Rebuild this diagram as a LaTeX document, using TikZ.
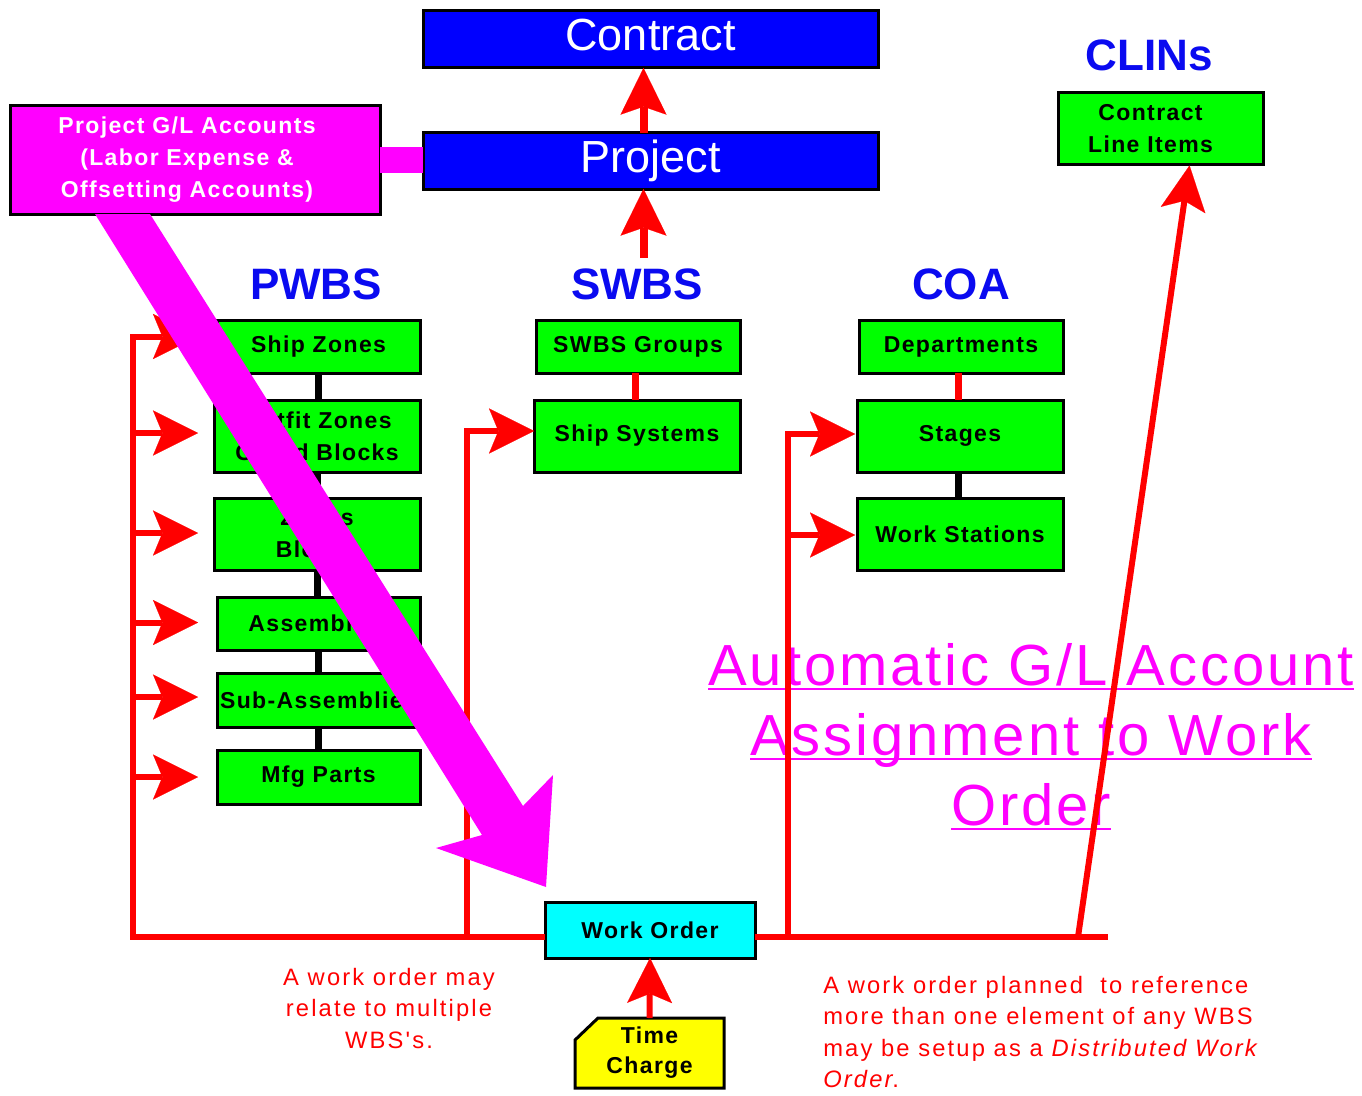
\documentclass[tikz,border=0pt]{standalone}
\usepackage{fontspec}
\setmainfont{Liberation Sans}
\newfontfamily\boxf[LetterSpace=6]{Liberation Sans}
\newfontfamily\notef[LetterSpace=9]{Liberation Sans}
\newfontfamily\autof[LetterSpace=5]{Liberation Sans}
\usetikzlibrary{arrows.meta,calc}
\pgfdeclarelayer{background}
\pgfsetlayers{background,main}
\definecolor{pgreen}{RGB}{0,255,0}
\definecolor{pblue}{RGB}{0,0,255}
\definecolor{tblue}{RGB}{10,10,240}
\definecolor{pmag}{RGB}{255,0,255}
\definecolor{pcyan}{RGB}{0,255,255}
\definecolor{pyel}{RGB}{255,255,0}
\definecolor{pred}{RGB}{255,0,0}
\newcommand\myul[1]{\setbox0\hbox{#1}\rlap{\rule[-3.2pt]{\wd0}{1.4pt}}\box0}
\newcommand\lsh[1]{\kern#1\mbox{}}
\begin{document}
\begin{tikzpicture}[x=0.75pt,y=-0.75pt,
  gbox/.style={draw=black, line width=2.25pt, fill=pgreen, inner sep=0pt, outer sep=0pt, align=center,
    font=\boxf\bfseries\fontsize{17.25pt}{24pt}\selectfont},
  small/.style={minimum width=152.25pt, minimum height=39.75pt},
  tall/.style={minimum width=154.5pt, minimum height=54pt},
  bluebox/.style={draw=black, line width=2.25pt, fill=pblue, text=white, inner sep=0pt, outer sep=0pt,
    minimum width=341.25pt, font=\fontsize{33.75pt}{36pt}\selectfont,
    text height=24.3pt, text depth=7.1pt},
  title/.style={text=tblue, font=\bfseries\fontsize{33pt}{36pt}\selectfont, inner sep=0pt, anchor=base},
  redln/.style={draw=pred, line width=4.5pt},
  redarr/.style={redln, -{Stealth[length=33.75pt,width=33.75pt,inset=7pt,line width=0.1pt]}},
  bigarr/.style={draw=pred, line width=6pt, -{Stealth[length=35pt,width=34.5pt,inset=6pt,line width=0.1pt]}},
  blk/.style={draw=black, line width=5.25pt},
  rcon/.style={draw=pred, line width=5.25pt},
  note/.style={text=pred, inner sep=0pt, font=\notef\fontsize{17.8pt}{23.6pt}\selectfont}
]
\begin{pgfonlayer}{background}
\fill[white] (0,0) rectangle (1362,1095);
\end{pgfonlayer}
\useasboundingbox (0,0) rectangle (1362,1095);

% top boxes
\node[bluebox, minimum height=42.75pt] (contract) at (650.5,39.5) {Contract};
\node[bluebox, minimum height=42pt] (project) at (650.5,161) {Project};
\node[draw=black, line width=2.25pt, fill=pmag, text=white, align=center, inner sep=0pt, outer sep=0pt,
  minimum width=277.5pt, minimum height=81pt,
  font=\boxf\bfseries\fontsize{17.25pt}{24pt}\selectfont] (gl) at (195,160)
  {Project G/L Accounts\lsh{12pt}\\(Labor Expense \&\lsh{12pt}\\Offsetting Accounts)\lsh{12pt}};
\draw[draw=pmag, line width=18.75pt] (gl.east) -- (gl.east -| project.west);

% titles
\node[title] (pwbs) at (316,299) {PWBS};
\node[title] (swbs) at (637,299) {SWBS};
\node[title] (coa) at (961,299) {COA};
\node[title] (clint) at (1149,71) {CLINs};
\node[gbox, minimum width=153.75pt, minimum height=54pt] (clins) at (1160.5,128.5)
  {Contract\lsh{15pt}\\Line Items\lsh{15pt}};

% PWBS column
\node[gbox, small] (sz) at (318.5,346.5) {Ship Zones};
\node[gbox, tall] (oz) at (317,436) {Outfit Zones\\Grand Blocks};
\node[gbox, tall] (zb) at (317,534) {Zones\\Blocks};
\node[gbox, small] (asm) at (318.5,623.5) {Assemblies};
\node[gbox, small, minimum height=40.5pt] (sub) at (318.5,700) {Sub-Assemblies};
\node[gbox, small, minimum height=40.5pt] (mfg) at (318.5,777) {Mfg Parts};
\draw[blk] (sz.south) -- (sz.south |- oz.north);
\draw[blk] (oz.south) -- (oz.south |- zb.north);
\draw[blk] (zb.south) -- (zb.south |- asm.north);
\draw[blk] (asm.south) -- (asm.south |- sub.north);
\draw[blk] (sub.south) -- (sub.south |- mfg.north);

% SWBS column
\node[gbox, small, minimum width=153pt] (swg) at (638,346.5) {SWBS Groups};
\node[gbox, tall] (sys) at (637,436) {Ship Systems};
\draw[rcon] ([xshift=-2pt]swg.south) -- ([xshift=-2pt]swg.south |- sys.north);

% COA column
\node[gbox, small, minimum width=153pt] (dep) at (961,346.5) {Departments};
\node[gbox, tall] (stg) at (960,436) {Stages};
\node[gbox, tall] (ws) at (960,534) {Work Stations};
\draw[rcon] ([xshift=-2pt]dep.south) -- ([xshift=-2pt]dep.south |- stg.north);
\draw[blk] ([xshift=-1pt]stg.south) -- ([xshift=-1pt]stg.south |- ws.north);

% work order and time charge
\node[draw=black, line width=2.25pt, fill=pcyan, inner sep=0pt, outer sep=0pt, minimum width=157.5pt, minimum height=42pt,
  font=\boxf\bfseries\fontsize{17.25pt}{24pt}\selectfont] (wo) at (650,930) {Work Order};
\node[inner sep=0pt, outer sep=0pt, minimum width=111.75pt, minimum height=52.5pt, align=center,
  font=\boxf\bfseries\fontsize{17.25pt}{22.5pt}\selectfont] (tc) at (649.5,1053) {Time\\Charge};
\begin{pgfonlayer}{background}
\filldraw[fill=pyel, draw=black, line width=2.25pt] (tc.south west) -- ($(tc.north west)+(0,22)$)
  -- ($(tc.north west)+(23,0)$) -- (tc.north east) -- (tc.south east) -- cycle;
\end{pgfonlayer}

% text blocks
\node[text=pmag, font=\autof\fontsize{43.5pt}{52.5pt}\selectfont, align=center, anchor=north, inner sep=0pt]
  (auto) at (1031,643) {\myul{Automatic G/L Account}\\\myul{Assignment to Work}\\\myul{Order}};
\node[note, anchor=north, align=center] (n1) at (389,968) {A work order may\\relate to multiple\\WBS's.};
\node[note, anchor=north west, align=left] (n2) at (823,976)
  {A work order planned\ \ to reference\\more than one element of any WBS\\may be setup as a \textit{Distributed Work}\\\textit{Order}.};

% red connectors
\coordinate (bL) at (133,937);
\coordinate (bR) at (1108,937);
\coordinate (c1) at (467,937);
\coordinate (c2) at (788,937);
\coordinate (c3) at (1078,937);
\coordinate (topL) at ($(bL |- sz.west)+(0,-10)$);
\coordinate (sysin) at ($(sys.west)+(0,-5)$);
\coordinate (stgin) at ($(stg.west)+(-2,-2)$);
\coordinate (wsin) at ($(ws.west)+(-2,1)$);
\coordinate (clintip) at ($(clins.south)+(29,1)$);
\draw[redarr] (bL -| wo.west) -- (bL) -- (topL) -- ++(65,0);
\draw[redarr] (bL |- oz.west) ++(0,-3) -- ++(65,0);
\draw[redarr] (bL |- zb.west) ++(0,-1) -- ++(65,0);
\draw[redarr] (bL |- asm.west) ++(0,-1) -- ++(65,0);
\draw[redarr] (bL |- sub.west) ++(0,-3) -- ++(65,0);
\draw[redarr] (bL |- mfg.west) -- ++(65,0);
\draw[redarr] (c1) -- (c1 |- sysin) -- (sysin);
\draw[redarr] (c2) -- (c2 |- stgin) -- (stgin);
\draw[redarr] (c2 |- wsin) -- (wsin);
\draw[redln] (wo.east |- bR) -- (bR);
\draw[redarr] (c3) -- (clintip);
\draw[redarr] (tc.north) -- (wo.south);
\draw[bigarr] ([xshift=-5.25pt]project.north) -- ([xshift=-5.25pt]contract.south);
\coordinate (sw) at ($(project.south)+(-7,0)$);
\draw[bigarr] ($(sw |- swbs.north)+(0,-10)$) -- (sw);

% magenta arrow
\fill[pmag] (95,214) -- (482,835) -- (436,848) -- (546,887) -- (553,775) -- (523,806) -- (150,214) -- cycle;
\end{tikzpicture}
\end{document}
